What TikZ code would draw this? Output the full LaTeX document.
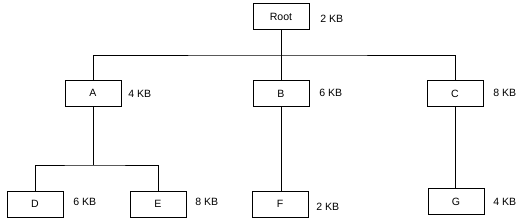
\documentclass[tikz,border=0pt]{standalone}
\usepackage{fontspec}
\setmainfont{Liberation Sans}
\begin{document}
\begin{tikzpicture}[x=0.02cm, y=-0.02cm,
    box/.style={draw, line width=.55pt, minimum width=1.12cm, minimum height=.52cm, inner sep=0pt, font=\fontsize{6}{7}\selectfont},
    size/.style={anchor=west, inner sep=0pt, font=\fontsize{6}{7}\selectfont}]
\useasboundingbox (0,0) rectangle (522,223);
% boxes
\node[box] (root) at (281,16.5) {Root};
\node[box] (A) at (93,93) {A};
\node[box] (B) at (281,93.5) {B};
\node[box] (C) at (455,93.5) {C};
\node[box] (D) at (35,204) {D};
\node[box] (E) at (158,204) {E};
\node[box] (F) at (280,204) {F};
\node[box] (G) at (456,201.5) {G};
% sizes
\node[size] (sroot) at (320,19) {2 KB};
\node[size] (sA) at (128,94) {4 KB};
\node[size] (sB) at (319,93) {6 KB};
\node[size] (sC) at (493,93) {8 KB};
\node[size] (sD) at (73,202) {6 KB};
\node[size] (sE) at (195,202) {8 KB};
\node[size] (sF) at (316,207) {2 KB};
\node[size] (sG) at (493,202) {4 KB};
% lines
\coordinate (bus) at (281,55);
\coordinate (busA) at (93,165);
\begin{scope}[line width=.55pt]
    \draw (root.south) -- (B.north);
    \draw (A.north) |- (bus) -| (C.north);
    \draw (A.south) -- (busA);
    \draw (D.north) |- (busA) -| (E.north);
    \draw (B.south) -- (B.south|-F.north);
    \draw (C.south) -- (C.south|-G.north);
\end{scope}
\end{tikzpicture}
\end{document}
